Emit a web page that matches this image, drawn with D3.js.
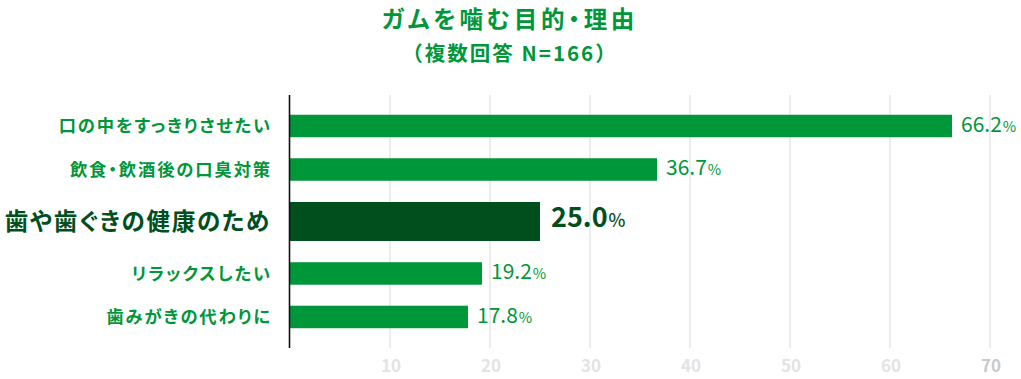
<!DOCTYPE html>
<html><head><meta charset="utf-8">
<script src="https://cdn.jsdelivr.net/npm/d3@7"></script>
<style>
html,body{margin:0;padding:0;background:#fff;}
svg{display:block;font-family:"Noto Sans CJK JP","Noto Sans",sans-serif;}
.palt{font-feature-settings:"palt" 1;}
</style>
</head><body>
<svg id="chart" width="1021" height="379"></svg>
<script>
const title = "ガムを噛む目的・理由";
const subtitle = "（複数回答 N=166）";
const categories = ["口の中をすっきりさせたい","飲食・飲酒後の口臭対策","歯や歯ぐきの健康のため","リラックスしたい","歯みがきの代わりに"];
const values = [66.2, 36.7, 25.0, 19.2, 17.8];
const highlight = [false, false, true, false, false];
const tickValues = [10, 20, 30, 40, 50, 60, 70];

const W = 1021, H = 379;
const svg = d3.select("#chart");
const green = "#00963a", dark = "#004f1d";

const x = d3.scaleLinear().domain([0, 70]).range([290, 990]);

// row layout: highlighted row takes more room
const weights = highlight.map(h => h ? 1.39 : 1);
const starts = [];
let acc = 0;
weights.forEach(w => { starts.push(acc); acc += w; });
const yU = d3.scaleLinear().domain([0, acc]).range([104.25, 104.25 + acc * 43.5]);
const rowCenter = i => yU(starts[i] + weights[i] / 2);
const barH = i => highlight[i] ? 39 : 22.5;

// title
svg.append("text").attr("class", "palt").attr("x", 510).attr("y", 28).attr("text-anchor", "middle")
  .attr("font-size", 23.5).attr("font-weight", 700).attr("letter-spacing", 3.7).attr("fill", green).text(title);
svg.append("text").attr("x", 510).attr("y", 61).attr("text-anchor", "middle")
  .attr("font-size", 20.5).attr("font-weight", 700).attr("letter-spacing", 2).attr("fill", green).text(subtitle);

// gridlines
svg.append("g").selectAll("line").data(tickValues).join("line")
  .attr("x1", d => x(d)).attr("x2", d => x(d)).attr("y1", 95).attr("y2", 348)
  .attr("stroke", "#e6e6e6").attr("stroke-width", 1.5);

// tick labels
svg.append("g").selectAll("text").data(tickValues).join("text")
  .attr("x", d => x(d) + 1).attr("y", 372).attr("text-anchor", "middle")
  .attr("font-size", 17).attr("font-weight", 700)
  .attr("fill", (d, i) => i === tickValues.length - 1 ? "#c9c9c9" : "#e3e3e3")
  .text(d => d);

// bars
svg.append("g").selectAll("rect").data(values).join("rect")
  .attr("x", x(0)).attr("width", d => x(d) - x(0))
  .attr("y", (d, i) => rowCenter(i) - barH(i) / 2).attr("height", (d, i) => barH(i))
  .attr("fill", (d, i) => highlight[i] ? dark : green);

// axis line
svg.append("line").attr("x1", 289.5).attr("x2", 289.5).attr("y1", 95).attr("y2", 348)
  .attr("stroke", "#111").attr("stroke-width", 1.6);

// category labels
svg.append("g").selectAll("text").data(categories).join("text")
  .attr("class", "palt")
  .attr("x", (d, i) => highlight[i] ? 271 : 272)
  .attr("y", (d, i) => rowCenter(i))
  .attr("dy", "0.37em")
  .attr("text-anchor", "end")
  .attr("font-size", (d, i) => highlight[i] ? 23.5 : 17.3)
  .attr("font-weight", 700)
  .attr("letter-spacing", (d, i) => highlight[i] ? 1.7 : 1.9)
  .attr("fill", (d, i) => highlight[i] ? dark : green)
  .text(d => d);

// value labels
const vl = svg.append("g").selectAll("text").data(values).join("text")
  .attr("x", (d, i) => x(d) + (highlight[i] ? 11 : 9))
  .attr("y", (d, i) => rowCenter(i))
  .attr("dy", "0.36em")
  .attr("fill", (d, i) => highlight[i] ? dark : green);
vl.append("tspan")
  .attr("font-size", (d, i) => highlight[i] ? 27 : 21)
  .attr("font-weight", (d, i) => highlight[i] ? 700 : 400)
  .text(d => d.toFixed(1));
vl.append("tspan")
  .attr("dx", 1)
  .attr("font-size", (d, i) => highlight[i] ? 18 : 14.5)
  .attr("font-weight", (d, i) => highlight[i] ? 500 : 400)
  .text("%");
</script>
</body></html>
